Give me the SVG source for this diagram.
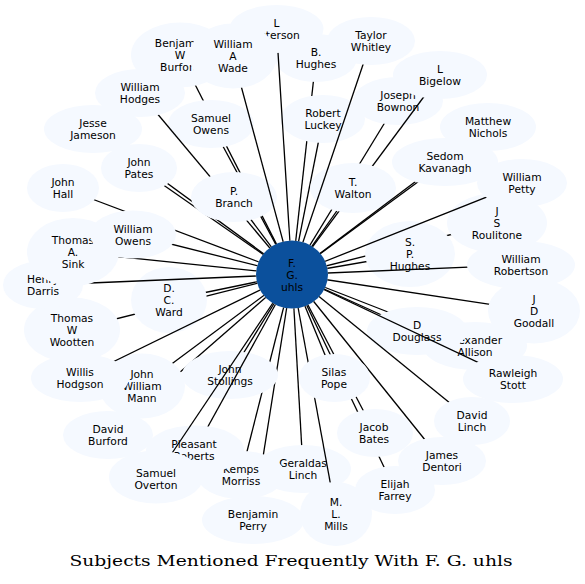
<svg xmlns="http://www.w3.org/2000/svg" width="585" height="584" viewBox="0 0 585 584">
<style>
.node{fill:#f5f9ff}
.hub{fill:#0b509c}
.lb{font-family:"DejaVu Sans","Liberation Sans",sans-serif;font-size:10.7px;text-anchor:middle;fill:#000}
.ttl{font-family:"DejaVu Serif","Liberation Serif",serif;font-size:14.5px;text-anchor:middle;fill:#000}
</style>
<defs>
<g id="c45"><use href="#e45"/></g>
<g id="c44"><use href="#e44"/><use href="#c45"/></g>
<g id="c43"><use href="#e43"/><use href="#c44"/></g>
<g id="c42"><use href="#e42"/><use href="#c43"/></g>
<g id="c41"><use href="#e41"/><use href="#c42"/></g>
<g id="c40"><use href="#e40"/><use href="#c41"/></g>
<g id="c39"><use href="#e39"/><use href="#c40"/></g>
<g id="c38"><use href="#e38"/><use href="#c39"/></g>
<g id="c37"><use href="#e37"/><use href="#c38"/></g>
<g id="c36"><use href="#e36"/><use href="#c37"/></g>
<g id="c35"><use href="#e35"/><use href="#c36"/></g>
<g id="c34"><use href="#e34"/><use href="#c35"/></g>
<g id="c33"><use href="#e33"/><use href="#c34"/></g>
<g id="c32"><use href="#e32"/><use href="#c33"/></g>
<g id="c31"><use href="#e31"/><use href="#c32"/></g>
<g id="c30"><use href="#e30"/><use href="#c31"/></g>
<g id="c29"><use href="#e29"/><use href="#c30"/></g>
<g id="c28"><use href="#e28"/><use href="#c29"/></g>
<g id="c27"><use href="#e27"/><use href="#c28"/></g>
<g id="c26"><use href="#e26"/><use href="#c27"/></g>
<g id="c25"><use href="#e25"/><use href="#c26"/></g>
<g id="c24"><use href="#e24"/><use href="#c25"/></g>
<g id="c23"><use href="#e23"/><use href="#c24"/></g>
<g id="c22"><use href="#e22"/><use href="#c23"/></g>
<g id="c21"><use href="#e21"/><use href="#c22"/></g>
<g id="c20"><use href="#e20"/><use href="#c21"/></g>
<g id="c19"><use href="#e19"/><use href="#c20"/></g>
<g id="c18"><use href="#e18"/><use href="#c19"/></g>
<g id="c17"><use href="#e17"/><use href="#c18"/></g>
<g id="c16"><use href="#e16"/><use href="#c17"/></g>
<g id="c15"><use href="#e15"/><use href="#c16"/></g>
<g id="c14"><use href="#e14"/><use href="#c15"/></g>
<g id="c13"><use href="#e13"/><use href="#c14"/></g>
<g id="c12"><use href="#e12"/><use href="#c13"/></g>
<g id="c11"><use href="#e11"/><use href="#c12"/></g>
<g id="c10"><use href="#e10"/><use href="#c11"/></g>
<g id="c9"><use href="#e9"/><use href="#c10"/></g>
<g id="c8"><use href="#e8"/><use href="#c9"/></g>
<g id="c7"><use href="#e7"/><use href="#c8"/></g>
<g id="c6"><use href="#e6"/><use href="#c7"/></g>
<g id="c5"><use href="#e5"/><use href="#c6"/></g>
<g id="c4"><use href="#e4"/><use href="#c5"/></g>
<g id="c3"><use href="#e3"/><use href="#c4"/></g>
<g id="c2"><use href="#e2"/><use href="#c3"/></g>
<g id="c1"><use href="#e1"/><use href="#c2"/></g>
<mask id="m1" maskUnits="userSpaceOnUse" x="0" y="0" width="585" height="584"><rect width="585" height="584" fill="#fff"/><g fill="#000"><use href="#e0"/><use href="#c1"/></g></mask>
<mask id="m2" maskUnits="userSpaceOnUse" x="0" y="0" width="585" height="584"><rect width="585" height="584" fill="#fff"/><g fill="#000"><use href="#e0"/><use href="#c2"/></g></mask>
<mask id="m3" maskUnits="userSpaceOnUse" x="0" y="0" width="585" height="584"><rect width="585" height="584" fill="#fff"/><g fill="#000"><use href="#e0"/><use href="#c3"/></g></mask>
<mask id="m4" maskUnits="userSpaceOnUse" x="0" y="0" width="585" height="584"><rect width="585" height="584" fill="#fff"/><g fill="#000"><use href="#e0"/><use href="#c4"/></g></mask>
<mask id="m5" maskUnits="userSpaceOnUse" x="0" y="0" width="585" height="584"><rect width="585" height="584" fill="#fff"/><g fill="#000"><use href="#e0"/><use href="#c5"/></g></mask>
<mask id="m6" maskUnits="userSpaceOnUse" x="0" y="0" width="585" height="584"><rect width="585" height="584" fill="#fff"/><g fill="#000"><use href="#e0"/><use href="#c6"/></g></mask>
<mask id="m7" maskUnits="userSpaceOnUse" x="0" y="0" width="585" height="584"><rect width="585" height="584" fill="#fff"/><g fill="#000"><use href="#e0"/><use href="#c7"/></g></mask>
<mask id="m8" maskUnits="userSpaceOnUse" x="0" y="0" width="585" height="584"><rect width="585" height="584" fill="#fff"/><g fill="#000"><use href="#e0"/><use href="#c8"/></g></mask>
<mask id="m9" maskUnits="userSpaceOnUse" x="0" y="0" width="585" height="584"><rect width="585" height="584" fill="#fff"/><g fill="#000"><use href="#e0"/><use href="#c9"/></g></mask>
<mask id="m10" maskUnits="userSpaceOnUse" x="0" y="0" width="585" height="584"><rect width="585" height="584" fill="#fff"/><g fill="#000"><use href="#e0"/><use href="#c10"/></g></mask>
<mask id="m11" maskUnits="userSpaceOnUse" x="0" y="0" width="585" height="584"><rect width="585" height="584" fill="#fff"/><g fill="#000"><use href="#e0"/><use href="#c11"/></g></mask>
<mask id="m12" maskUnits="userSpaceOnUse" x="0" y="0" width="585" height="584"><rect width="585" height="584" fill="#fff"/><g fill="#000"><use href="#e0"/><use href="#c12"/></g></mask>
<mask id="m13" maskUnits="userSpaceOnUse" x="0" y="0" width="585" height="584"><rect width="585" height="584" fill="#fff"/><g fill="#000"><use href="#e0"/><use href="#c13"/></g></mask>
<mask id="m14" maskUnits="userSpaceOnUse" x="0" y="0" width="585" height="584"><rect width="585" height="584" fill="#fff"/><g fill="#000"><use href="#e0"/><use href="#c14"/></g></mask>
<mask id="m15" maskUnits="userSpaceOnUse" x="0" y="0" width="585" height="584"><rect width="585" height="584" fill="#fff"/><g fill="#000"><use href="#e0"/><use href="#c15"/></g></mask>
<mask id="m16" maskUnits="userSpaceOnUse" x="0" y="0" width="585" height="584"><rect width="585" height="584" fill="#fff"/><g fill="#000"><use href="#e0"/><use href="#c16"/></g></mask>
<mask id="m17" maskUnits="userSpaceOnUse" x="0" y="0" width="585" height="584"><rect width="585" height="584" fill="#fff"/><g fill="#000"><use href="#e0"/><use href="#c17"/></g></mask>
<mask id="m18" maskUnits="userSpaceOnUse" x="0" y="0" width="585" height="584"><rect width="585" height="584" fill="#fff"/><g fill="#000"><use href="#e0"/><use href="#c18"/></g></mask>
<mask id="m19" maskUnits="userSpaceOnUse" x="0" y="0" width="585" height="584"><rect width="585" height="584" fill="#fff"/><g fill="#000"><use href="#e0"/><use href="#c19"/></g></mask>
<mask id="m20" maskUnits="userSpaceOnUse" x="0" y="0" width="585" height="584"><rect width="585" height="584" fill="#fff"/><g fill="#000"><use href="#e0"/><use href="#c20"/></g></mask>
<mask id="m21" maskUnits="userSpaceOnUse" x="0" y="0" width="585" height="584"><rect width="585" height="584" fill="#fff"/><g fill="#000"><use href="#e0"/><use href="#c21"/></g></mask>
<mask id="m22" maskUnits="userSpaceOnUse" x="0" y="0" width="585" height="584"><rect width="585" height="584" fill="#fff"/><g fill="#000"><use href="#e0"/><use href="#c22"/></g></mask>
<mask id="m23" maskUnits="userSpaceOnUse" x="0" y="0" width="585" height="584"><rect width="585" height="584" fill="#fff"/><g fill="#000"><use href="#e0"/><use href="#c23"/></g></mask>
<mask id="m24" maskUnits="userSpaceOnUse" x="0" y="0" width="585" height="584"><rect width="585" height="584" fill="#fff"/><g fill="#000"><use href="#e0"/><use href="#c24"/></g></mask>
<mask id="m25" maskUnits="userSpaceOnUse" x="0" y="0" width="585" height="584"><rect width="585" height="584" fill="#fff"/><g fill="#000"><use href="#e0"/><use href="#c25"/></g></mask>
<mask id="m26" maskUnits="userSpaceOnUse" x="0" y="0" width="585" height="584"><rect width="585" height="584" fill="#fff"/><g fill="#000"><use href="#e0"/><use href="#c26"/></g></mask>
<mask id="m27" maskUnits="userSpaceOnUse" x="0" y="0" width="585" height="584"><rect width="585" height="584" fill="#fff"/><g fill="#000"><use href="#e0"/><use href="#c27"/></g></mask>
<mask id="m28" maskUnits="userSpaceOnUse" x="0" y="0" width="585" height="584"><rect width="585" height="584" fill="#fff"/><g fill="#000"><use href="#e0"/><use href="#c28"/></g></mask>
<mask id="m29" maskUnits="userSpaceOnUse" x="0" y="0" width="585" height="584"><rect width="585" height="584" fill="#fff"/><g fill="#000"><use href="#e0"/><use href="#c29"/></g></mask>
<mask id="m30" maskUnits="userSpaceOnUse" x="0" y="0" width="585" height="584"><rect width="585" height="584" fill="#fff"/><g fill="#000"><use href="#e0"/><use href="#c30"/></g></mask>
<mask id="m31" maskUnits="userSpaceOnUse" x="0" y="0" width="585" height="584"><rect width="585" height="584" fill="#fff"/><g fill="#000"><use href="#e0"/><use href="#c31"/></g></mask>
<mask id="m32" maskUnits="userSpaceOnUse" x="0" y="0" width="585" height="584"><rect width="585" height="584" fill="#fff"/><g fill="#000"><use href="#e0"/><use href="#c32"/></g></mask>
<mask id="m33" maskUnits="userSpaceOnUse" x="0" y="0" width="585" height="584"><rect width="585" height="584" fill="#fff"/><g fill="#000"><use href="#e0"/><use href="#c33"/></g></mask>
<mask id="m34" maskUnits="userSpaceOnUse" x="0" y="0" width="585" height="584"><rect width="585" height="584" fill="#fff"/><g fill="#000"><use href="#e0"/><use href="#c34"/></g></mask>
<mask id="m35" maskUnits="userSpaceOnUse" x="0" y="0" width="585" height="584"><rect width="585" height="584" fill="#fff"/><g fill="#000"><use href="#e0"/><use href="#c35"/></g></mask>
<mask id="m36" maskUnits="userSpaceOnUse" x="0" y="0" width="585" height="584"><rect width="585" height="584" fill="#fff"/><g fill="#000"><use href="#e0"/><use href="#c36"/></g></mask>
<mask id="m37" maskUnits="userSpaceOnUse" x="0" y="0" width="585" height="584"><rect width="585" height="584" fill="#fff"/><g fill="#000"><use href="#e0"/><use href="#c37"/></g></mask>
<mask id="m38" maskUnits="userSpaceOnUse" x="0" y="0" width="585" height="584"><rect width="585" height="584" fill="#fff"/><g fill="#000"><use href="#e0"/><use href="#c38"/></g></mask>
<mask id="m39" maskUnits="userSpaceOnUse" x="0" y="0" width="585" height="584"><rect width="585" height="584" fill="#fff"/><g fill="#000"><use href="#e0"/><use href="#c39"/></g></mask>
<mask id="m40" maskUnits="userSpaceOnUse" x="0" y="0" width="585" height="584"><rect width="585" height="584" fill="#fff"/><g fill="#000"><use href="#e0"/><use href="#c40"/></g></mask>
<mask id="m41" maskUnits="userSpaceOnUse" x="0" y="0" width="585" height="584"><rect width="585" height="584" fill="#fff"/><g fill="#000"><use href="#e0"/><use href="#c41"/></g></mask>
<mask id="m42" maskUnits="userSpaceOnUse" x="0" y="0" width="585" height="584"><rect width="585" height="584" fill="#fff"/><g fill="#000"><use href="#e0"/><use href="#c42"/></g></mask>
<mask id="m43" maskUnits="userSpaceOnUse" x="0" y="0" width="585" height="584"><rect width="585" height="584" fill="#fff"/><g fill="#000"><use href="#e0"/><use href="#c43"/></g></mask>
<mask id="m44" maskUnits="userSpaceOnUse" x="0" y="0" width="585" height="584"><rect width="585" height="584" fill="#fff"/><g fill="#000"><use href="#e0"/><use href="#c44"/></g></mask>
<mask id="m45" maskUnits="userSpaceOnUse" x="0" y="0" width="585" height="584"><rect width="585" height="584" fill="#fff"/><g fill="#000"><use href="#e0"/><use href="#c45"/></g></mask>
</defs>
<rect width="585" height="584" fill="#fff"/>
<g id="nodes">
<g id="n-hub" class="hub"><ellipse id="e0" cx="292" cy="274.5" rx="36" ry="34"/><text class="lb"><tspan x="292" y="266.5">F.</tspan><tspan x="292" y="278.5">G.</tspan><tspan x="292" y="290.5">uhls</tspan></text></g>
<g id="n-burford" class="node"><ellipse id="e1" cx="180" cy="55" rx="49" ry="32.5"/><text class="lb"><tspan x="180" y="47">Benjamin</tspan><tspan x="180" y="59">W</tspan><tspan x="180" y="71">Burford</tspan></text></g>
<g id="n-sowens" class="node"><ellipse id="e2" cx="211" cy="124" rx="43" ry="24"/><text class="lb"><tspan x="211" y="122">Samuel</tspan><tspan x="211" y="134">Owens</tspan></text></g>
<g id="n-jesse" class="node"><ellipse id="e3" cx="93" cy="129" rx="49" ry="24"/><text class="lb"><tspan x="93" y="127">Jesse</tspan><tspan x="93" y="139">Jameson</tspan></text></g>
<g id="n-pates" class="node"><ellipse id="e4" cx="139" cy="168" rx="38" ry="24"/><text class="lb"><tspan x="139" y="166">John</tspan><tspan x="139" y="178">Pates</tspan></text></g>
<g id="n-hodges" class="node"><ellipse id="e5" cx="140" cy="93" rx="45" ry="24"/><text class="lb"><tspan x="140" y="91">William</tspan><tspan x="140" y="103">Hodges</tspan></text></g>
<g id="n-branch" class="node"><ellipse id="e6" cx="234" cy="197" rx="43" ry="25"/><text class="lb"><tspan x="234" y="195">P.</tspan><tspan x="234" y="207">Branch</tspan></text></g>
<g id="n-bhughes" class="node"><ellipse id="e7" cx="316" cy="58" rx="41" ry="24"/><text class="lb"><tspan x="316" y="56">B.</tspan><tspan x="316" y="68">Hughes</tspan></text></g>
<g id="n-luckey" class="node"><ellipse id="e8" cx="323" cy="119" rx="42" ry="24"/><text class="lb"><tspan x="323" y="117">Robert</tspan><tspan x="323" y="129">Luckey</tspan></text></g>
<g id="n-peterson" class="node"><ellipse id="e9" cx="276.5" cy="29" rx="47" ry="24"/><text class="lb"><tspan x="276.5" y="27">L</tspan><tspan x="276.5" y="39">Peterson</tspan></text></g>
<g id="n-wade" class="node"><ellipse id="e10" cx="233" cy="56" rx="44" ry="32.5"/><text class="lb"><tspan x="233" y="48">William</tspan><tspan x="233" y="60">A</tspan><tspan x="233" y="72">Wade</tspan></text></g>
<g id="n-bownon" class="node"><ellipse id="e11" cx="398" cy="101" rx="45" ry="24"/><text class="lb"><tspan x="398" y="99">Joseph</tspan><tspan x="398" y="111">Bownon</tspan></text></g>
<g id="n-bigelow" class="node"><ellipse id="e12" cx="440" cy="75" rx="47" ry="24"/><text class="lb"><tspan x="440" y="73">L</tspan><tspan x="440" y="85">Bigelow</tspan></text></g>
<g id="n-walton" class="node"><ellipse id="e13" cx="353" cy="188" rx="43" ry="25"/><text class="lb"><tspan x="353" y="186">T.</tspan><tspan x="353" y="198">Walton</tspan></text></g>
<g id="n-taylor" class="node"><ellipse id="e14" cx="371" cy="41" rx="44" ry="24"/><text class="lb"><tspan x="371" y="39">Taylor</tspan><tspan x="371" y="51">Whitley</tspan></text></g>
<g id="n-nichols" class="node"><ellipse id="e15" cx="488" cy="127" rx="48" ry="24"/><text class="lb"><tspan x="488" y="125">Matthew</tspan><tspan x="488" y="137">Nichols</tspan></text></g>
<g id="n-kavanagh" class="node"><ellipse id="e16" cx="445" cy="162" rx="53" ry="24"/><text class="lb"><tspan x="445" y="160">Sedom</tspan><tspan x="445" y="172">Kavanagh</tspan></text></g>
<g id="n-roulitone" class="node"><ellipse id="e17" cx="497" cy="223" rx="50" ry="30"/><text class="lb"><tspan x="497" y="215">J</tspan><tspan x="497" y="227">S</tspan><tspan x="497" y="239">Roulitone</tspan></text></g>
<g id="n-sphughes" class="node"><ellipse id="e18" cx="410" cy="254" rx="45" ry="33"/><text class="lb"><tspan x="410" y="246">S.</tspan><tspan x="410" y="258">P.</tspan><tspan x="410" y="270">Hughes</tspan></text></g>
<g id="n-petty" class="node"><ellipse id="e19" cx="522" cy="183" rx="45" ry="24"/><text class="lb"><tspan x="522" y="181">William</tspan><tspan x="522" y="193">Petty</tspan></text></g>
<g id="n-robertson" class="node"><ellipse id="e20" cx="521" cy="265" rx="54" ry="24"/><text class="lb"><tspan x="521" y="263">William</tspan><tspan x="521" y="275">Robertson</tspan></text></g>
<g id="n-goodall" class="node"><ellipse id="e21" cx="534" cy="311" rx="46" ry="32.5"/><text class="lb"><tspan x="534" y="303">J</tspan><tspan x="534" y="315">D</tspan><tspan x="534" y="327">Goodall</tspan></text></g>
<g id="n-hall" class="node"><ellipse id="e22" cx="63" cy="188" rx="36" ry="24"/><text class="lb"><tspan x="63" y="186">John</tspan><tspan x="63" y="198">Hall</tspan></text></g>
<g id="n-wootten" class="node"><ellipse id="e23" cx="72" cy="330" rx="48" ry="32.5"/><text class="lb"><tspan x="72" y="322">Thomas</tspan><tspan x="72" y="334">W</tspan><tspan x="72" y="346">Wootten</tspan></text></g>
<g id="n-ward" class="node"><ellipse id="e24" cx="169" cy="300" rx="38" ry="33"/><text class="lb"><tspan x="169" y="292">D.</tspan><tspan x="169" y="304">C.</tspan><tspan x="169" y="316">Ward</tspan></text></g>
<g id="n-darris" class="node"><ellipse id="e25" cx="43" cy="285" rx="40" ry="24"/><text class="lb"><tspan x="43" y="283">Henry</tspan><tspan x="43" y="295">Darris</tspan></text></g>
<g id="n-sink" class="node"><ellipse id="e26" cx="73" cy="252" rx="46" ry="34"/><text class="lb"><tspan x="73" y="244">Thomas</tspan><tspan x="73" y="256">A.</tspan><tspan x="73" y="268">Sink</tspan></text></g>
<g id="n-wowens" class="node"><ellipse id="e27" cx="133" cy="234.5" rx="43" ry="24"/><text class="lb"><tspan x="133" y="232.5">William</tspan><tspan x="133" y="244.5">Owens</tspan></text></g>
<g id="n-allison" class="node"><ellipse id="e28" cx="475" cy="346" rx="52" ry="24"/><text class="lb"><tspan x="475" y="344">Alexander</tspan><tspan x="475" y="356">Allison</tspan></text></g>
<g id="n-douglass" class="node"><ellipse id="e29" cx="417" cy="331" rx="50" ry="24"/><text class="lb"><tspan x="417" y="329">D</tspan><tspan x="417" y="341">Douglass</tspan></text></g>
<g id="n-stott" class="node"><ellipse id="e30" cx="513" cy="379" rx="50" ry="24"/><text class="lb"><tspan x="513" y="377">Rawleigh</tspan><tspan x="513" y="389">Stott</tspan></text></g>
<g id="n-dlinch" class="node"><ellipse id="e31" cx="472" cy="421" rx="38" ry="24"/><text class="lb"><tspan x="472" y="419">David</tspan><tspan x="472" y="431">Linch</tspan></text></g>
<g id="n-dentori" class="node"><ellipse id="e32" cx="442" cy="461" rx="44" ry="24"/><text class="lb"><tspan x="442" y="459">James</tspan><tspan x="442" y="471">Dentori</tspan></text></g>
<g id="n-farrey" class="node"><ellipse id="e33" cx="395" cy="490" rx="40" ry="24"/><text class="lb"><tspan x="395" y="488">Elijah</tspan><tspan x="395" y="500">Farrey</tspan></text></g>
<g id="n-bates" class="node"><ellipse id="e34" cx="375" cy="433" rx="38" ry="24"/><text class="lb"><tspan x="374" y="431">Jacob</tspan><tspan x="374" y="443">Bates</tspan></text></g>
<g id="n-perry" class="node"><ellipse id="e35" cx="253" cy="520" rx="51" ry="24"/><text class="lb"><tspan x="253" y="518">Benjamin</tspan><tspan x="253" y="530">Perry</tspan></text></g>
<g id="n-glinch" class="node"><ellipse id="e36" cx="303" cy="469" rx="48" ry="24"/><text class="lb"><tspan x="303" y="467">Geraldas</tspan><tspan x="303" y="479">Linch</tspan></text></g>
<g id="n-kemps" class="node"><ellipse id="e37" cx="241" cy="475" rx="44" ry="24"/><text class="lb"><tspan x="241" y="473">Kemps</tspan><tspan x="241" y="485">Morriss</tspan></text></g>
<g id="n-mills" class="node"><ellipse id="e38" cx="336" cy="514" rx="36" ry="32"/><text class="lb"><tspan x="336" y="506">M.</tspan><tspan x="336" y="518">L.</tspan><tspan x="336" y="530">Mills</tspan></text></g>
<g id="n-pope" class="node"><ellipse id="e39" cx="334.5" cy="378" rx="35.5" ry="24"/><text class="lb"><tspan x="334" y="376">Silas</tspan><tspan x="334" y="388">Pope</tspan></text></g>
<g id="n-dburford" class="node"><ellipse id="e40" cx="108" cy="435" rx="45" ry="24"/><text class="lb"><tspan x="108" y="433">David</tspan><tspan x="108" y="445">Burford</tspan></text></g>
<g id="n-mann" class="node"><ellipse id="e41" cx="142" cy="386" rx="43" ry="32.5"/><text class="lb"><tspan x="142" y="378">John</tspan><tspan x="142" y="390">William</tspan><tspan x="142" y="402">Mann</tspan></text></g>
<g id="n-hodgson" class="node"><ellipse id="e42" cx="80" cy="378" rx="49" ry="24"/><text class="lb"><tspan x="80" y="376">Willis</tspan><tspan x="80" y="388">Hodgson</tspan></text></g>
<g id="n-stollings" class="node"><ellipse id="e43" cx="230" cy="375" rx="48" ry="24"/><text class="lb"><tspan x="230" y="373">John</tspan><tspan x="230" y="385">Stollings</tspan></text></g>
<g id="n-pleasant" class="node"><ellipse id="e44" cx="195" cy="450" rx="49" ry="24.5"/><text class="lb"><tspan x="194" y="448">Pleasant</tspan><tspan x="194" y="460">Roberts</tspan></text></g>
<g id="n-overton" class="node"><ellipse id="e45" cx="156" cy="477" rx="47" ry="26.5"/><text class="lb"><tspan x="156" y="477">Samuel</tspan><tspan x="156" y="488.5">Overton</tspan></text></g>
</g>
<g id="connectors" stroke="#000" stroke-width="1.3" fill="none">
<line x1="292" y1="274.5" x2="180" y2="55" mask="url(#m1)"/>
<line x1="292" y1="274.5" x2="211" y2="124" mask="url(#m2)"/>
<line x1="292" y1="274.5" x2="93" y2="129" mask="url(#m3)"/>
<line x1="292" y1="274.5" x2="139" y2="168" mask="url(#m4)"/>
<line x1="292" y1="274.5" x2="140" y2="93" mask="url(#m5)"/>
<line x1="292" y1="274.5" x2="234" y2="197" mask="url(#m6)"/>
<line x1="292" y1="274.5" x2="316" y2="58" mask="url(#m7)"/>
<line x1="292" y1="274.5" x2="323" y2="119" mask="url(#m8)"/>
<line x1="292" y1="274.5" x2="276.5" y2="29" mask="url(#m9)"/>
<line x1="292" y1="274.5" x2="233" y2="56" mask="url(#m10)"/>
<line x1="292" y1="274.5" x2="398" y2="101" mask="url(#m11)"/>
<line x1="292" y1="274.5" x2="440" y2="75" mask="url(#m12)"/>
<line x1="292" y1="274.5" x2="353" y2="188" mask="url(#m13)"/>
<line x1="292" y1="274.5" x2="371" y2="41" mask="url(#m14)"/>
<line x1="292" y1="274.5" x2="488" y2="127" mask="url(#m15)"/>
<line x1="292" y1="274.5" x2="445" y2="162" mask="url(#m16)"/>
<line x1="292" y1="274.5" x2="497" y2="223" mask="url(#m17)"/>
<line x1="292" y1="274.5" x2="410" y2="254" mask="url(#m18)"/>
<line x1="292" y1="274.5" x2="522" y2="183" mask="url(#m19)"/>
<line x1="292" y1="274.5" x2="521" y2="265" mask="url(#m20)"/>
<line x1="292" y1="274.5" x2="534" y2="311" mask="url(#m21)"/>
<line x1="292" y1="274.5" x2="63" y2="188" mask="url(#m22)"/>
<line x1="292" y1="274.5" x2="72" y2="330" mask="url(#m23)"/>
<line x1="292" y1="274.5" x2="169" y2="300" mask="url(#m24)"/>
<line x1="292" y1="274.5" x2="43" y2="285" mask="url(#m25)"/>
<line x1="292" y1="274.5" x2="73" y2="252" mask="url(#m26)"/>
<line x1="292" y1="274.5" x2="133" y2="234.5" mask="url(#m27)"/>
<line x1="292" y1="274.5" x2="475" y2="346" mask="url(#m28)"/>
<line x1="292" y1="274.5" x2="417" y2="331" mask="url(#m29)"/>
<line x1="292" y1="274.5" x2="513" y2="379" mask="url(#m30)"/>
<line x1="292" y1="274.5" x2="472" y2="421" mask="url(#m31)"/>
<line x1="292" y1="274.5" x2="442" y2="461" mask="url(#m32)"/>
<line x1="292" y1="274.5" x2="395" y2="490" mask="url(#m33)"/>
<line x1="292" y1="274.5" x2="375" y2="433" mask="url(#m34)"/>
<line x1="292" y1="274.5" x2="253" y2="520" mask="url(#m35)"/>
<line x1="292" y1="274.5" x2="303" y2="469" mask="url(#m36)"/>
<line x1="292" y1="274.5" x2="241" y2="475" mask="url(#m37)"/>
<line x1="292" y1="274.5" x2="336" y2="514" mask="url(#m38)"/>
<line x1="292" y1="274.5" x2="334.5" y2="378" mask="url(#m39)"/>
<line x1="292" y1="274.5" x2="108" y2="435" mask="url(#m40)"/>
<line x1="292" y1="274.5" x2="142" y2="386" mask="url(#m41)"/>
<line x1="292" y1="274.5" x2="80" y2="378" mask="url(#m42)"/>
<line x1="292" y1="274.5" x2="230" y2="375" mask="url(#m43)"/>
<line x1="292" y1="274.5" x2="195" y2="450" mask="url(#m44)"/>
<line x1="292" y1="274.5" x2="156" y2="477" mask="url(#m45)"/>
</g>
<text class="ttl" x="291" y="566" textLength="443" lengthAdjust="spacingAndGlyphs">Subjects Mentioned Frequently With F. G. uhls</text>
</svg>
